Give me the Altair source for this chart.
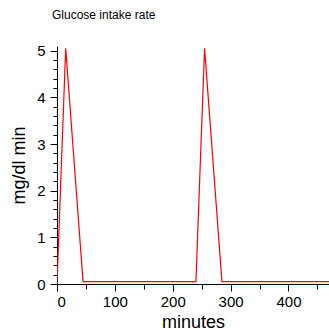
import altair as alt
import pandas as pd

minutes = [0, 15, 45, 240, 255, 285, 470]
rate = [0.0, 5.05, 0.05, 0.05, 5.05, 0.05, 0.05]

y_major = [0, 1, 2, 3, 4, 5]
y_minor = [round(i * 0.2, 1) for i in range(0, 26) if i % 5 != 0]
x_ticks = list(range(0, 471, 50))

df = pd.DataFrame({"minutes": minutes, "rate": rate})

FONT = "Liberation Sans"
xscale = alt.Scale(domain=[0, 470], nice=False, zero=False)
yscale = alt.Scale(domain=[0, 5.1], nice=False)

main = alt.Chart(df).mark_line(color="#ff0000", strokeWidth=1.2, clip=True).encode(
    x=alt.X(
        "minutes:Q",
        scale=xscale,
        axis=alt.Axis(
            title="minutes",
            orient="bottom",
            values=x_ticks,
            labelExpr="datum.value % 100 === 0 ? datum.label : ''",
            tickSize=alt.condition("datum.value % 100 === 0", alt.value(7), alt.value(5)),
            grid=False,
            labelOverlap=False,
            labelFontSize=15,
            titleFontSize=18,
            titleFontWeight="normal",
            titlePadding=4,
            labelPadding=3,
            domainColor="black",
            tickColor="black",
            labelColor="black",
            titleColor="black",
            labelFont=FONT,
            titleFont=FONT,
        ),
    ),
    y=alt.Y(
        "rate:Q",
        scale=yscale,
        axis=alt.Axis(
            title="mg/dl min",
            orient="left",
            values=y_major,
            tickSize=7,
            grid=False,
            labelOverlap=False,
            labelFontSize=15,
            titleFontSize=18,
            titleFontWeight="normal",
            titlePadding=8,
            labelPadding=5,
            domainColor="black",
            tickColor="black",
            labelColor="black",
            titleColor="black",
            labelFont=FONT,
            titleFont=FONT,
        ),
    ),
)

minor = alt.Chart(df).mark_line(opacity=0).encode(
    x=alt.X("minutes:Q", scale=xscale, axis=None),
    y=alt.Y(
        "rate:Q",
        scale=yscale,
        axis=alt.Axis(
            title=None,
            orient="left",
            values=y_minor,
            tickSize=4,
            labels=False,
            domain=False,
            grid=False,
            tickColor="black",
        ),
    ),
)

chart = alt.layer(main, minor).resolve_axis(x="independent", y="independent").properties(
    width=272,
    height=238,
    title=alt.TitleParams(
        "Glucose intake rate",
        anchor="start",
        frame="group",
        fontSize=12,
        fontWeight="normal",
        font=FONT,
        color="black",
        offset=22,
        dx=-5,
    ),
    autosize=alt.AutoSizeParams(type="none"),
    padding={"left": 57, "top": 46, "right": 0, "bottom": 51},
).configure_view(stroke=None)

chart.save("out.html", embed_options={"renderer": "svg", "actions": False})
